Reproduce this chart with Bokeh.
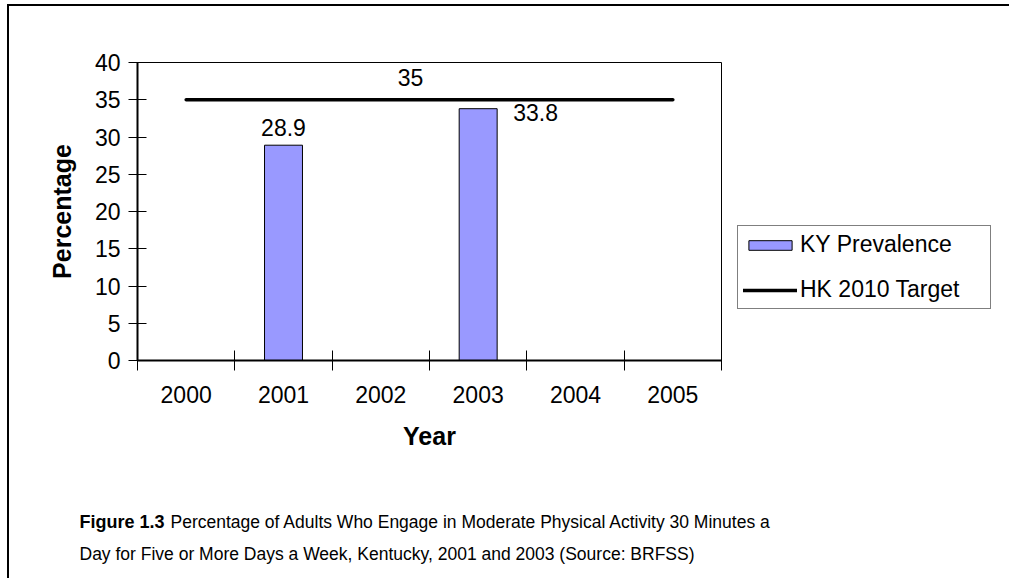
from bokeh.plotting import figure
from bokeh.models import Range1d, FixedTicker, Legend, LegendItem
from bokeh.core.properties import value
from bokeh.embed import file_html
from bokeh.resources import INLINE

# ---- data ----
years = [2000, 2001, 2002, 2003, 2004, 2005]
bar_years = [2001, 2003]
ky_prevalence = [28.9, 33.8]
target_years = [2000, 2005]
hk_target = [35, 35]
y_ticks = [0, 5, 10, 15, 20, 25, 30, 35, 40]
series_names = ["KY Prevalence", "HK 2010 Target"]
caption_bold = "Figure 1.3"
caption_line1 = "Percentage of Adults Who Engage in Moderate Physical Activity 30 Minutes a"
caption_line2 = "Day for Five or More Days a Week, Kentucky,  2001 and  2003 (Source:  BRFSS)"

FONT = "Liberation Sans"
FW, FH = 584, 298
TOTAL_W = 998
x0, x1 = years[0] - 0.5, years[-1] + 0.5
y0, y1 = y_ticks[0], y_ticks[-1]

p = figure(frame_width=FW, frame_height=FH,
           x_range=Range1d(x0, x1), y_range=Range1d(y0, y1),
           output_backend="svg", toolbar_location=None,
           min_border_left=128, min_border_top=56,
           min_border_bottom=120, min_border_right=TOTAL_W - 128 - FW,
           background_fill_color="white", border_fill_color="white")
p.styles = {"border-top": "2px solid black", "border-left": "2px solid black",
            "margin-top": "4px", "margin-left": "7px"}

p.xgrid.visible = False
p.ygrid.visible = False
p.outline_line_color = "black"
p.outline_line_width = 1

# y axis
p.yaxis.ticker = FixedTicker(ticks=y_ticks)
p.yaxis.major_tick_in = 9
p.yaxis.major_tick_out = 9
p.yaxis.minor_tick_line_color = None
p.yaxis.axis_line_width = 2
p.yaxis.major_label_text_font = FONT
p.yaxis.major_label_text_font_size = "23px"
p.yaxis.major_label_text_color = "black"
p.yaxis.major_label_standoff = 8
p.yaxis.axis_label = "Percentage"
p.yaxis.axis_label_text_font = FONT
p.yaxis.axis_label_text_font_style = "bold"
p.yaxis.axis_label_text_font_size = "25px"
p.yaxis.axis_label_text_color = "black"
p.yaxis.axis_label_standoff = 16

# x axis: labels at year centres, tick marks between years
bounds = [y - 0.5 for y in years] + [years[-1] + 0.5]
p.xaxis.ticker = FixedTicker(ticks=years, minor_ticks=bounds)
p.xaxis.major_tick_line_color = None
p.xaxis.major_tick_in = 0
p.xaxis.major_tick_out = 10
p.xaxis.minor_tick_line_color = "black"
p.xaxis.minor_tick_in = 10
p.xaxis.minor_tick_out = 10
p.xaxis.axis_line_width = 2
p.xaxis.major_label_text_font = FONT
p.xaxis.major_label_text_font_size = "23px"
p.xaxis.major_label_text_color = "black"
p.xaxis.major_label_standoff = 15
p.xaxis.axis_label = "Year"
p.xaxis.axis_label_text_font = FONT
p.xaxis.axis_label_text_font_style = "bold"
p.xaxis.axis_label_text_font_size = "25px"
p.xaxis.axis_label_text_color = "black"
p.xaxis.axis_label_standoff = 16

bars = p.vbar(x=bar_years, top=ky_prevalence, width=0.39,
              fill_color="#9999FF", line_color="black", line_width=1)
line = p.line(x=target_years, y=hk_target, line_color="black",
              line_width=3.5, line_cap="round")

# data labels
p.text(x=[bar_years[0]], y=[ky_prevalence[0]], text=[f"{ky_prevalence[0]}"],
       text_align="center", text_baseline="middle", y_offset=-18,
       text_font=value(FONT), text_font_size="23px", text_color="black")
p.text(x=[bar_years[1]], y=[ky_prevalence[1]], text=[f"{ky_prevalence[1]}"],
       text_align="left", text_baseline="middle", x_offset=35, y_offset=4,
       text_font=value(FONT), text_font_size="23px", text_color="black")
p.text(x=[(target_years[0] + target_years[1]) / 2], y=[hk_target[0]],
       text=[f"{hk_target[0]}"],
       text_align="center", text_baseline="middle", x_offset=-19, y_offset=-22,
       text_font=value(FONT), text_font_size="23px", text_color="black")

legend = Legend(items=[LegendItem(label=series_names[0], renderers=[bars]),
                       LegendItem(label=series_names[1], renderers=[line])],
                location=(16, 51), orientation="vertical",
                border_line_color="black", border_line_width=1,
                background_fill_color="white", background_fill_alpha=1,
                label_text_font=FONT, label_text_font_size="23px",
                label_text_color="black",
                glyph_width=54, glyph_height=12, label_height=24,
                label_width=185,
                label_standoff=3, spacing=18, padding=5, margin=0)
p.add_layout(legend, "right")

# ---- caption strip: a second root, pixel-scaled ranges, y downward ----
CAP_H = 98
c = figure(frame_width=TOTAL_W, frame_height=CAP_H,
           x_range=Range1d(0, TOTAL_W), y_range=Range1d(CAP_H, 0),
           output_backend="svg", toolbar_location=None, min_border=0,
           background_fill_color="white", border_fill_color="white")
c.styles = {"border-left": "2px solid black", "margin-left": "7px"}
c.axis.visible = False
c.grid.visible = False
c.outline_line_color = None
cap_font = dict(text_font=value(FONT), text_color="black",
                text_baseline="middle", text_align="left")
c.text(x=[70], y=[41], text=[caption_bold], text_font_style="bold",
       text_font_size="18px", **cap_font)
c.text(x=[161], y=[41], text=[caption_line1], text_font_size="17.5px", **cap_font)
c.text(x=[70], y=[73], text=[caption_line2], text_font_size="17.5px", **cap_font)

open("out.html", "w").write(file_html([p, c], INLINE))
